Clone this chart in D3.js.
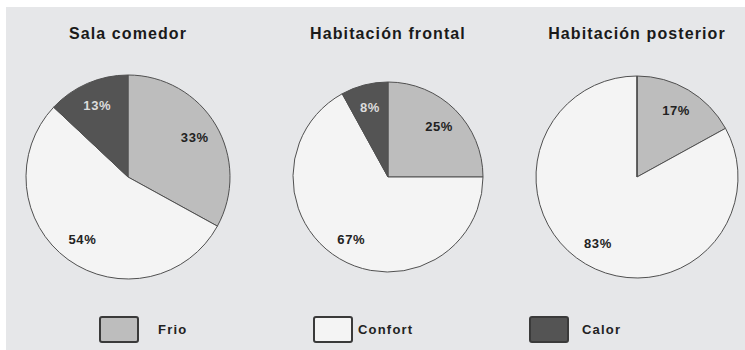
<!DOCTYPE html>
<html>
<head>
<meta charset="utf-8">
<script src="https://cdnjs.cloudflare.com/ajax/libs/d3/7.8.5/d3.min.js"></script>
<style>
  body { margin: 0; background: #fff; }
  svg { display: block; font-family: "Liberation Sans", Arial, sans-serif; }
</style>
</head>
<body>
<svg id="chart"></svg>
<script>
// data
var categories = ["Frio", "Confort", "Calor"];
var rooms = ["Sala comedor", "Habitación frontal", "Habitación posterior"];
var frio = [33, 25, 17];
var confort = [54, 67, 83];
var calor = [13, 8, 0];

var width = 745, height = 350;
var colors = ["#bdbdbd", "#f4f4f4", "#545454"];
var labelColors = ["#222", "#222", "#dcdcdc"];

var svg = d3.select("#chart")
  .attr("width", width)
  .attr("height", height);

// grey panel, leaves a thin white band top and left
svg.append("rect")
  .attr("x", 6).attr("y", 7)
  .attr("width", width - 6).attr("height", height - 7)
  .attr("fill", "#e6e7e9");

// panel layout
var centersX = [128, 388, 637];
var radii = [102, 95, 101];
var cy = 177;

var color = d3.scaleOrdinal().domain(categories).range(colors);
var textColor = d3.scaleOrdinal().domain(categories).range(labelColors);

var pie = d3.pie()
  .sort(null)
  .value(function(d) { return d.value; });

rooms.forEach(function(room, i) {
  var values = [frio[i], confort[i], calor[i]].map(function(v, j) {
    return { cat: categories[j], value: v };
  });
  var r = radii[i];
  var g = svg.append("g")
    .attr("transform", "translate(" + centersX[i] + "," + cy + ")");

  var arc = d3.arc().innerRadius(0).outerRadius(r);
  var labelArc = d3.arc().innerRadius(r * 0.76).outerRadius(r * 0.76);

  var arcs = pie(values);

  g.selectAll("path")
    .data(arcs)
    .enter().append("path")
    .attr("d", arc)
    .attr("fill", function(d) { return color(d.data.cat); })
    .attr("stroke", "#505050")
    .attr("stroke-width", 1);

  g.selectAll("text.pct")
    .data(arcs.filter(function(d) { return d.data.value > 0; }))
    .enter().append("text")
    .attr("class", "pct")
    .attr("transform", function(d) { return "translate(" + labelArc.centroid(d) + ")"; })
    .attr("text-anchor", "middle")
    .attr("dy", "0.35em")
    .attr("font-size", 13)
    .attr("letter-spacing", 0.6)
    .attr("font-weight", "bold")
    .attr("fill", function(d) { return textColor(d.data.cat); })
    .text(function(d) { return d.data.value + "%"; });

  svg.append("text")
    .attr("x", centersX[i])
    .attr("y", 39)
    .attr("text-anchor", "middle")
    .attr("font-size", 16)
    .attr("letter-spacing", 1.1)
    .attr("font-weight", "bold")
    .attr("fill", "#1a1a1a")
    .text(room);
});

// legend
var legendX = [100, 314, 530];
var textX = [158, 358, 582];
var legend = svg.selectAll(".legend")
  .data(categories)
  .enter().append("g")
  .attr("class", "legend");

legend.append("rect")
  .attr("x", function(d, i) { return legendX[i]; })
  .attr("y", 317)
  .attr("width", 38)
  .attr("height", 25)
  .attr("rx", 2)
  .attr("fill", function(d) { return color(d); })
  .attr("stroke", "#3a3a3a")
  .attr("stroke-width", 2);

legend.append("text")
  .attr("x", function(d, i) { return textX[i]; })
  .attr("y", 329)
  .attr("dy", "0.35em")
  .attr("font-size", 13)
  .attr("letter-spacing", 1.2)
  .attr("font-weight", "bold")
  .attr("fill", "#222")
  .text(function(d) { return d; });
</script>
</body>
</html>
